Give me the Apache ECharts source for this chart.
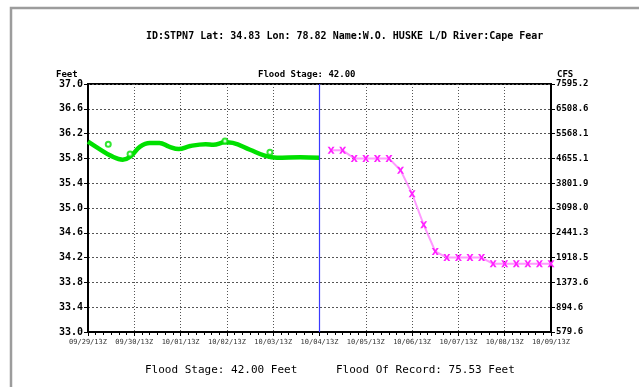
<!DOCTYPE html>
<html>
<head>
<meta charset="utf-8">
<script src="https://cdn.jsdelivr.net/npm/echarts@6/dist/echarts.min.js"></script>
<style>
html,body{margin:0;padding:0;background:#fff;}
#c{width:639px;height:387px;}
</style>
</head>
<body>
<div id="c"></div>
<script>
// Hours after 09/29 13Z
const xTickLabels = ['09/29/13Z','09/30/13Z','10/01/13Z','10/02/13Z','10/03/13Z','10/04/13Z','10/05/13Z','10/06/13Z','10/07/13Z','10/08/13Z','10/09/13Z'];
const flowTickLabels = ['579.6','894.6','1373.6','1918.5','2441.3','3098.0','3801.9','4655.1','5568.1','6508.6','7595.2'];

const obsHours = [0,6,12,18,22,27,32,37,42,47,53,61,65,71,75,84,92,98,110,120];
const obsStage = [36.07,35.95,35.84,35.78,35.83,35.99,36.05,36.05,35.99,35.95,36.00,36.03,36.02,36.06,36.05,35.94,35.84,35.81,35.82,35.81];

const obsPointHours = [10.5,21.8,71,94.3];
const obsPointStage = [36.03,35.87,36.08,35.90];

const fcstHours = [126,132,138,144,150,156,162,168,174,180,186,192,198,204,210,216,222,228,234,240];
const fcstStage = [35.93,35.93,35.80,35.80,35.80,35.80,35.61,35.23,34.73,34.30,34.20,34.20,34.20,34.20,34.10,34.10,34.10,34.10,34.10,34.10];

const obsNowHour = 120;

const font = 'DejaVu Sans Mono';
const zip = (a,b) => a.map((v,i)=>[v,b[i]]);
const xSym = 'path://M0,0L3,0L5,3L7,0L10,0L6.5,5L10,10L7,10L5,7L3,10L0,10L3.5,5Z';

const chart = echarts.init(document.getElementById('c'));
chart.setOption({
  animation:false,
  backgroundColor:'#fff',
  grid:{left:88,right:88,top:84,bottom:55,show:true,borderColor:'#000',borderWidth:2,backgroundColor:'transparent'},
  xAxis:{
    type:'value',min:0,max:240,interval:24,
    axisLine:{show:true,lineStyle:{color:'#000',width:2}},
    axisTick:{show:true,length:4,lineStyle:{color:'#000',width:1}},
    minorTick:{show:true,splitNumber:6,length:3,lineStyle:{color:'#000'}},
    splitLine:{show:true,lineStyle:{color:'#555',type:[1,2],width:1}},
    axisLabel:{margin:7,fontFamily:font,fontSize:7,color:'#333',formatter:v=>xTickLabels[Math.round(v/24)]}
  },
  yAxis:[{
    type:'value',min:33,max:37,interval:0.4,position:'left',
    axisLine:{show:true,lineStyle:{color:'#000',width:2}},
    axisTick:{show:true,length:4,lineStyle:{color:'#000'}},
    splitLine:{show:true,lineStyle:{color:'#555',type:[2,2],width:1}},
    axisLabel:{margin:5,fontFamily:font,fontSize:10,fontWeight:'bold',color:'#000',formatter:v=>v.toFixed(1)}
  },{
    type:'value',min:33,max:37,interval:0.4,position:'right',
    axisLine:{show:true,lineStyle:{color:'#000',width:2}},
    axisTick:{show:true,length:4,lineStyle:{color:'#000'}},
    splitLine:{show:false},
    axisLabel:{margin:5,fontFamily:font,fontSize:9,fontWeight:'bold',color:'#000',formatter:v=>flowTickLabels[Math.round((v-33)/0.4)]}
  }],
  series:[
    {type:'line',data:zip(obsHours,obsStage),smooth:0.4,symbol:'none',lineStyle:{color:'#00e000',width:4.5},z:3,
     markLine:{silent:true,symbol:'none',label:{show:false},lineStyle:{color:'#3a3aff',width:1.2,type:'solid',opacity:1},emphasis:{disabled:true},data:[{xAxis:obsNowHour}],z:6}},
    {type:'scatter',data:zip(obsPointHours,obsPointStage),symbol:'emptyCircle',symbolSize:5,itemStyle:{color:'#00e000',borderColor:'#00e000',borderWidth:1.5},z:4},
    {type:'line',data:zip(fcstHours,fcstStage),symbol:xSym,symbolSize:7,showAllSymbol:true,lineStyle:{color:'#ff99ff',width:2},itemStyle:{color:'#ff22ff'},z:5}
  ],
  graphic:[
    {type:'rect',shape:{x:11,y:8,width:700,height:500},style:{fill:'none',stroke:'#9c9c9c',lineWidth:2.5},silent:true},
    {type:'text',x:146,y:31,style:{text:'ID:STPN7 Lat: 34.83 Lon: 78.82 Name:W.O. HUSKE L/D River:Cape Fear',font:'bold 10px "DejaVu Sans Mono"',fill:'#000'}},
    {type:'text',x:56,y:70,style:{text:'Feet',font:'bold 9px "DejaVu Sans Mono"',fill:'#000'}},
    {type:'text',x:258,y:70,style:{text:'Flood Stage: 42.00',font:'bold 9px "DejaVu Sans Mono"',fill:'#000'}},
    {type:'text',x:557,y:70,style:{text:'CFS',font:'bold 9px "DejaVu Sans Mono"',fill:'#000'}},
    {type:'text',x:145,y:365,style:{text:'Flood Stage: 42.00 Feet',font:'11px "DejaVu Sans Mono"',fill:'#000'}},
    {type:'text',x:336,y:365,style:{text:'Flood Of Record: 75.53 Feet',font:'11px "DejaVu Sans Mono"',fill:'#000'}}
  ]
});
</script>
</body>
</html>
